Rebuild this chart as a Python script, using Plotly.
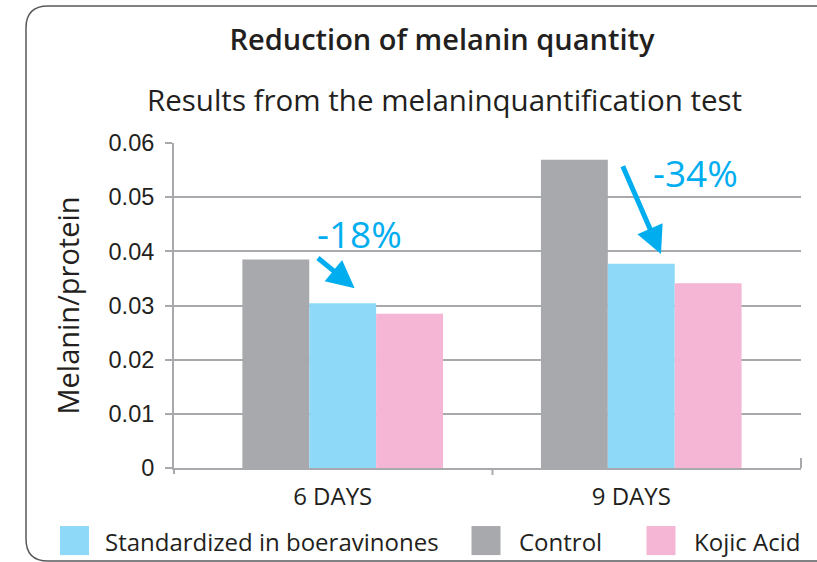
import plotly.graph_objects as go

# ---- data ----
categories = ["6 DAYS", "9 DAYS"]
control = [0.0385, 0.0569]
standardized = [0.0304, 0.0377]
kojic = [0.0285, 0.0341]
series_names = ["Control", "Standardized in boeravinones", "Kojic Acid"]
reductions = ["-18%", "-34%"]
y_ticks = [0, 0.01, 0.02, 0.03, 0.04, 0.05, 0.06]
y_ticktext = ["0", "0.01", "0.02", "0.03", "0.04", "0.05", "0.06"]

# ---- styling ----
W, H = 817, 562
PX0, PX1 = 174, 801      # plot area x extent (px)
PY0, PY1 = 143.3, 468    # plot area y extent (px, top/bottom)
GRAY = "#A7A9AC"
BLUE = "#8ED8F8"
PINK = "#F5B5D4"
CYAN = "#00AEEF"
TXT = "#231F20"
HUMAN = "Open Sans, Noto Sans, sans-serif"
HELV = "Liberation Sans, Arial, sans-serif"

def fx(px):
    return (px - PX0) / (PX1 - PX0)

def fy(py):
    return (PY1 - py) / (PY1 - PY0)

colors = {"Control": GRAY, "Standardized in boeravinones": BLUE, "Kojic Acid": PINK}
values = {"Control": control, "Standardized in boeravinones": standardized, "Kojic Acid": kojic}

fig = go.Figure()
for name in series_names:
    fig.add_trace(go.Bar(
        x=categories, y=values[name], name=name,
        marker=dict(color=colors[name], line=dict(width=0)),
        showlegend=False,
    ))

shapes = []
# rounded border
r = 22
L, T, B, R = 26, 6.5, 561, 860
path = (f"M{fx(R)},{fy(T)} L{fx(L + r)},{fy(T)} Q{fx(L)},{fy(T)} {fx(L)},{fy(T + r)} "
        f"L{fx(L)},{fy(B - r)} Q{fx(L)},{fy(B)} {fx(L + r)},{fy(B)} L{fx(R)},{fy(B)}")
shapes.append(dict(type="path", xref="paper", yref="paper", path=path,
                   line=dict(color="#58595B", width=1.5), layer="above"))
# x axis boundary ticks
for px, d in [(PX0, 6), (492.5, 7), (PX1, -10)]:
    shapes.append(dict(type="line", xref="paper", yref="paper",
                       x0=fx(px), x1=fx(px), y0=fy(PY1), y1=fy(PY1 + d),
                       line=dict(color=GRAY, width=2)))

annotations = []
# subtitle
annotations.append(dict(text="Results from the melaninquantification test",
                        xref="paper", yref="paper", x=fx(444), y=fy(100),
                        xanchor="center", yanchor="middle", showarrow=False,
                        font=dict(family=HUMAN, size=29.5, color=TXT)))
# arrows and reduction labels
arrow_specs = [
    # tip (x, y), tail (ax, ay)
    dict(x=0.040, y=0.0332, ax=-0.088, ay=0.0390),
    dict(x=1.066, y=0.0395, ax=0.936, ay=0.0560),
]
for a in arrow_specs:
    annotations.append(dict(x=a["x"], y=a["y"], ax=a["ax"], ay=a["ay"],
                            xref="x", yref="y", axref="x", ayref="y",
                            text="", showarrow=True, arrowhead=2, arrowsize=1.1,
                            arrowwidth=5, arrowcolor=CYAN))
label_pos = [(0.055, 0.0433), (1.182, 0.0546)]
for txt, (lx, ly) in zip(reductions, label_pos):
    annotations.append(dict(text=txt, x=lx, y=ly, xref="x", yref="y",
                            showarrow=False, xanchor="center", yanchor="middle",
                            font=dict(family=HUMAN, size=37, color=CYAN)))

# custom legend (order as in the reference)
legend_items = [("Standardized in boeravinones", 60, 103),
                ("Control", 471.5, 517),
                ("Kojic Acid", 646.5, 692)]
for name, sx, tx in legend_items:
    shapes.append(dict(type="rect", xref="paper", yref="paper",
                       x0=fx(sx), x1=fx(sx + 29), y0=fy(526), y1=fy(555),
                       fillcolor=colors[name], line=dict(width=0)))
    annotations.append(dict(text=name, xref="paper", yref="paper",
                            x=fx(tx), y=fy(541), xanchor="left", yanchor="middle",
                            showarrow=False,
                            font=dict(family=HUMAN, size=24, color=TXT)))

fig.update_layout(
    width=W, height=H,
    margin=dict(l=PX0, r=W - PX1, t=PY0, b=H - PY1),
    paper_bgcolor="white", plot_bgcolor="white",
    barmode="group", bargap=0.328, bargroupgap=0,
    title=dict(text="Reduction of melanin quantity", x=442 / W, xanchor="center",
               y=1 - 40 / H, yanchor="middle", yref="container",
               font=dict(family=HUMAN, size=29, color=TXT, weight=600)),
    xaxis=dict(type="category", range=[-0.565, 1.535], showgrid=False,
               showline=True, linecolor=GRAY, linewidth=2, ticks="",
               ticklabelstandoff=6, ticklabelshift=-10,
               tickfont=dict(family=HUMAN, size=24, color=TXT)),
    yaxis=dict(range=[0, 0.06], tickvals=y_ticks, ticktext=y_ticktext,
               showgrid=True, gridcolor=GRAY, gridwidth=2,
               showline=True, linecolor=GRAY, linewidth=2,
               ticks="outside", ticklen=7, tickcolor=GRAY, tickwidth=2,
               ticklabelstandoff=6, zeroline=False,
               tickfont=dict(family=HELV, size=23.5, color=TXT),
               title=dict(text="Melanin/protein", standoff=20,
                          font=dict(family=HUMAN, size=29, color=TXT))),
    shapes=shapes, annotations=annotations,
    showlegend=False,
)

fig.write_html("out.html", config={"displayModeBar": False},
               post_script="document.body.style.margin='0';document.body.style.padding='0';")
